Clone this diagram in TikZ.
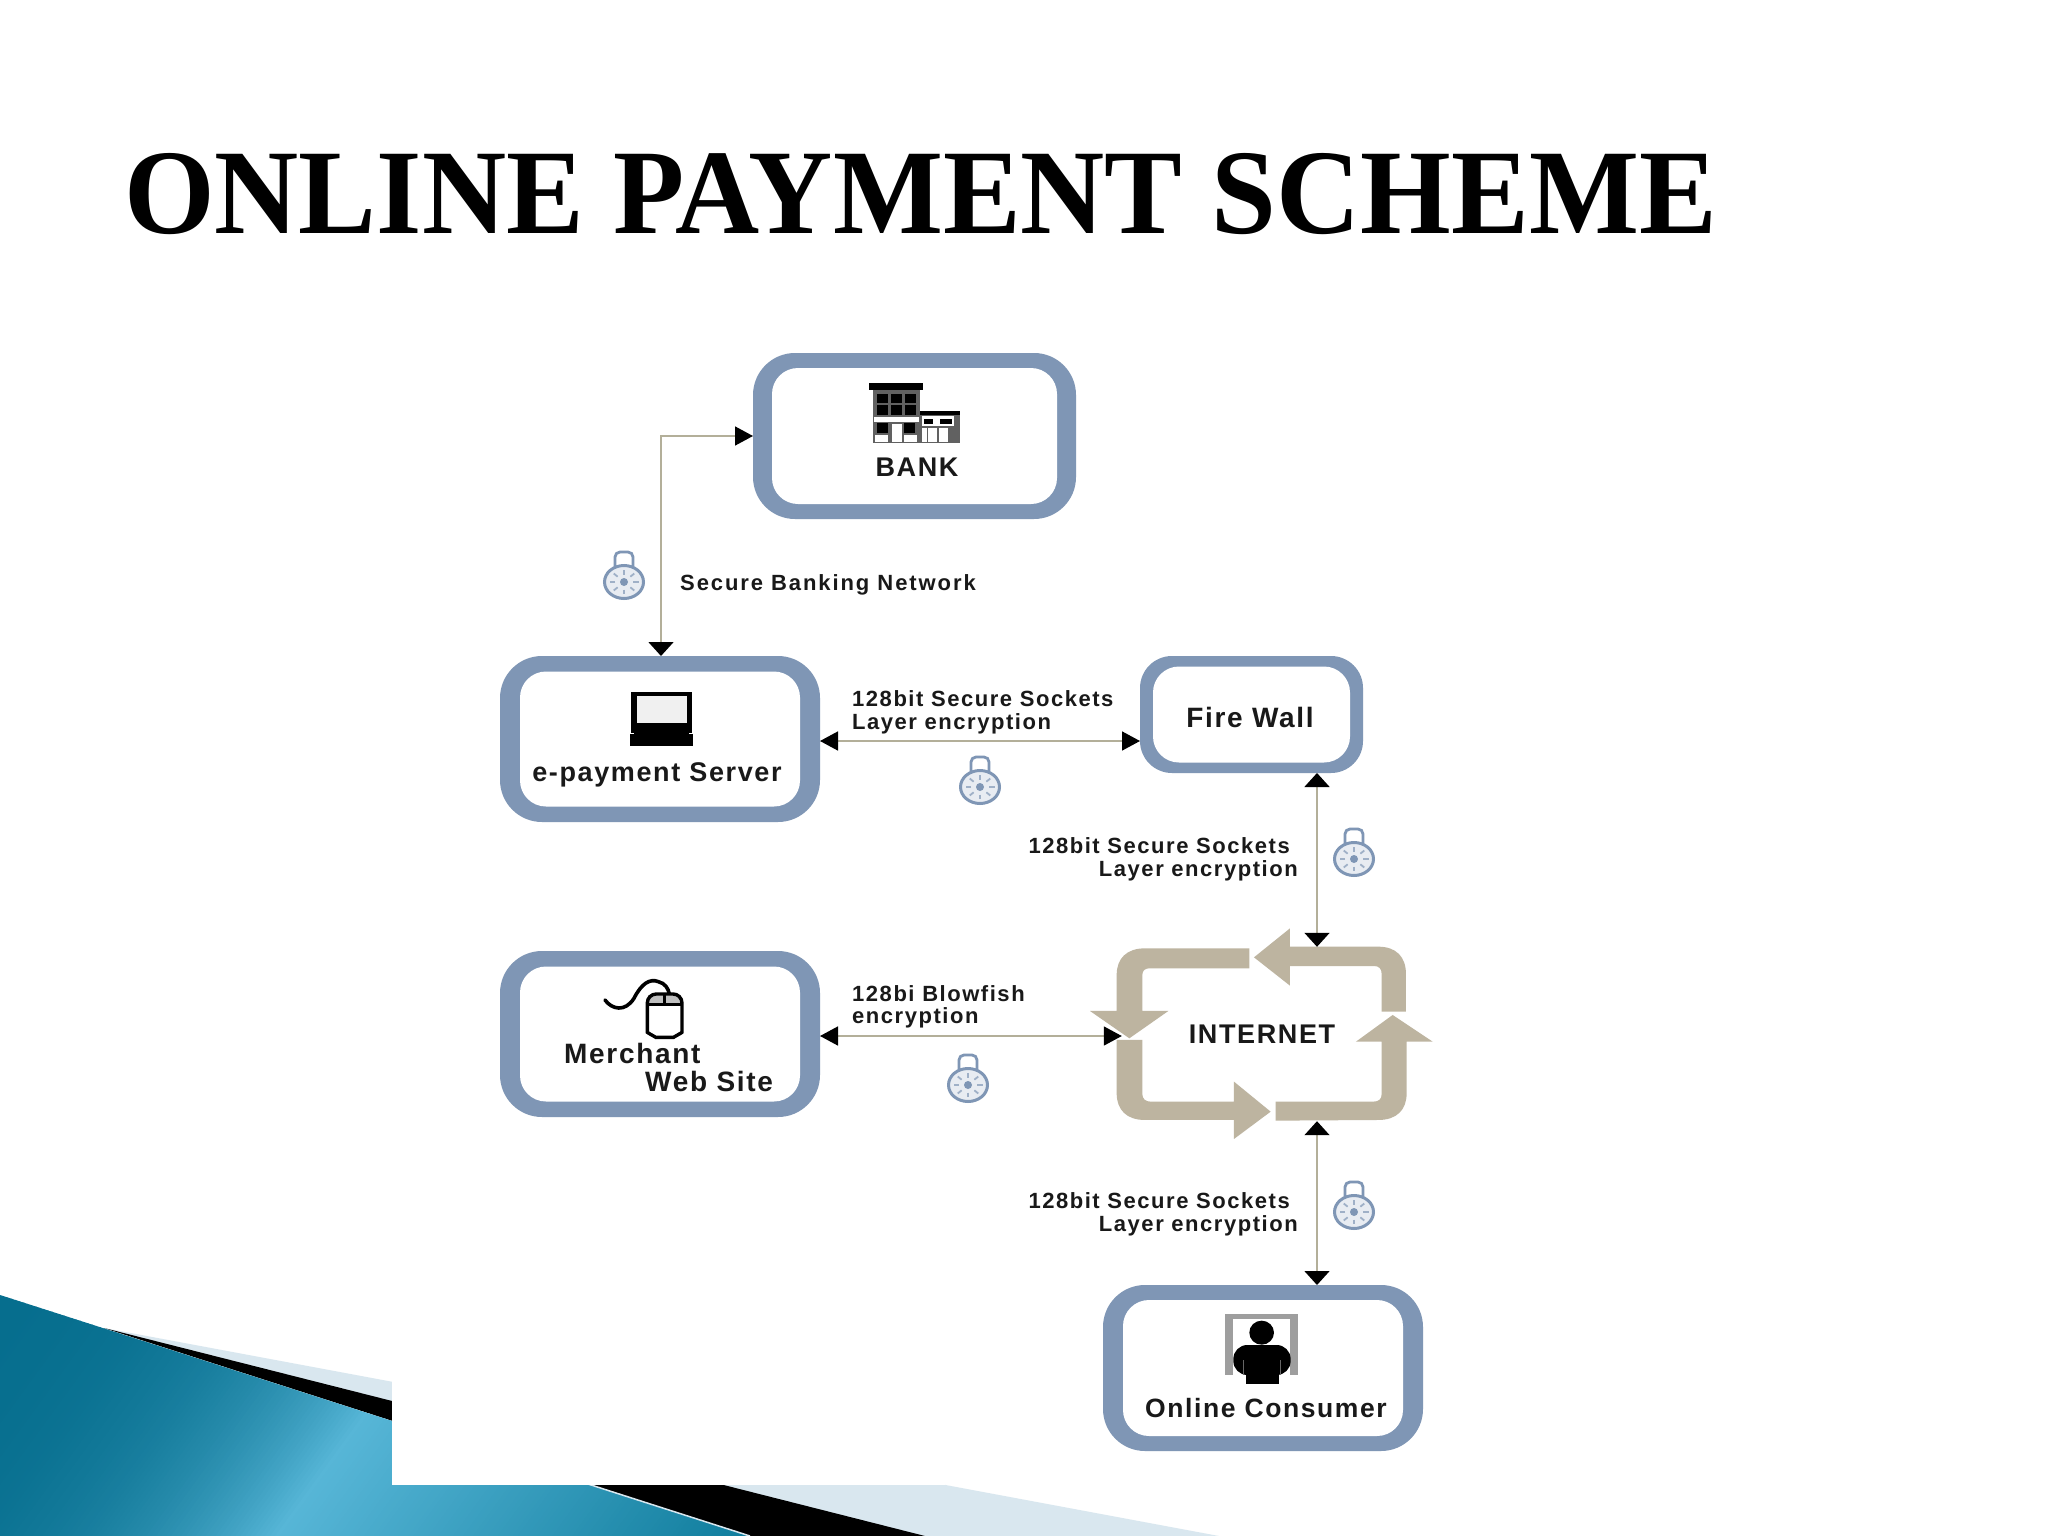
\documentclass[tikz,border=0pt]{standalone}
\usepackage{fontspec}
\usetikzlibrary{arrows.meta,calc}
\setmainfont{Liberation Sans}
\newfontfamily\titlefont[FakeStretch=0.963]{Liberation Serif}
\newfontfamily\lblfont[LetterSpace=7]{Liberation Sans}
\newfontfamily\lblwide[LetterSpace=8.7]{Liberation Sans}
\newfontfamily\boxfont[LetterSpace=6]{Liberation Sans}
\definecolor{boxblue}{HTML}{7F96B5}
\definecolor{linec}{HTML}{B3AF99}
\definecolor{loopc}{HTML}{BDB4A0}
\definecolor{tealA}{HTML}{066E8E}
\definecolor{tealB}{HTML}{57B6D7}
\definecolor{tealC}{HTML}{0C7A9A}
\definecolor{lightp}{HTML}{D9E7EF}
\tikzset{
  x=1pt,y=-1pt,
  netbox/.style n args={2}{fill=boxblue,rounded corners=42pt,inner sep=0pt,outer sep=0pt,
    path picture={\fill[white,rounded corners=26pt]
      ($(path picture bounding box.south west)+(#1,-#2)$) rectangle
      ($(path picture bounding box.north east)+(-#1,#2)$);}},
  lbl/.style={font=\lblfont\bfseries\fontsize{22}{23}\selectfont,inner sep=0pt,text=black!90},
  boxlbl/.style={font=\boxfont\bfseries\fontsize{#1}{#1}\selectfont,inner sep=0pt,text=black!90},
  conn/.style={draw=linec,line width=1.6pt},
  hh/.style={conn,{Triangle[length=18pt,width=19pt,color=black]}-{Triangle[length=18pt,width=19pt,color=black]}},
  vv/.style={conn,{Triangle[length=14pt,width=25pt,color=black]}-{Triangle[length=14pt,width=25pt,color=black]}},
  padlock/.pic={
    \draw[boxblue,line width=2.8pt,fill=white,rounded corners=5pt] (-9,-12) -- (-9,-31) -- (9,-31) -- (9,-12);
    \draw[boxblue,line width=3pt,fill=boxblue!18] (0,-1) ellipse [x radius=19.5,y radius=16.5];
    \fill[boxblue] (0,-1) circle (4);
    \foreach \a in {0,45,...,315}{
      \draw[boxblue!75,line width=1.8pt] ({9*cos(\a)},{-1+7.5*sin(\a)}) -- ({14.5*cos(\a)},{-1+12*sin(\a)});
    }
  }
}
\begin{document}
\begin{tikzpicture}
\useasboundingbox (0,0) rectangle (2048,1536);
\fill[white] (0,0) rectangle (2048,1536);
% slide decoration
\fill[lightp] (104,1328) -- (1219,1536) -- (750,1536) -- cycle;
\fill[black] (104,1328) -- (925,1536) -- (750,1536) -- cycle;
\begin{scope}
\clip (0,1295) -- (750,1536) -- (0,1536) -- cycle;
\foreach \tv in {-400,-396,...,400}{
  \pgfmathsetmacro{\pmix}{\tv<0 ? ((\tv+400)/400)^3*100 : (400-\tv)/4}
  \ifdim\tv pt<0pt \colorlet{cur}{tealB!\pmix!tealA}\else\colorlet{cur}{tealB!\pmix!tealC}\fi
  \fill[cur] ({275+0.81*\tv+0.59*500},{1536+0.59*\tv-0.81*500})
    -- ({275+0.81*\tv-0.59*500},{1536+0.59*\tv+0.81*500})
    -- ({275+0.81*(\tv+5)-0.59*500},{1536+0.59*(\tv+5)+0.81*500})
    -- ({275+0.81*(\tv+5)+0.59*500},{1536+0.59*(\tv+5)-0.81*500}) -- cycle;
}
\end{scope}
\draw[lightp,line width=1.5pt] (560,1475) -- (750,1536);
\fill[white] (392,1378) rectangle (945,1485);
% title
\node[anchor=base west,inner sep=0pt,font=\titlefont\bfseries\fontsize{121}{121}\selectfont] (title) at (124,233) {ONLINE PAYMENT SCHEME};
% boxes
\node[netbox={19}{15},minimum width=323pt,minimum height=166pt] (bank) at (914.5,436) {};
\node[netbox={20}{15.5},minimum width=320pt,minimum height=166pt] (epay) at (660,739) {};
\node[netbox={20}{15.5},minimum width=320pt,minimum height=166pt] (merch) at (660,1034) {};
\node[netbox={13}{10.5},rounded corners=32pt,minimum width=223pt,minimum height=117pt] (fw) at (1251.5,714.5) {};
\node[netbox={20}{15},minimum width=320pt,minimum height=166pt] (cons) at (1263,1368) {};
% internet loop
\node[inner sep=0pt,minimum width=290pt,minimum height=174pt,boxlbl=27] (inet) at (1262,1034) {INTERNET};
\begin{scope}[shift={(1080,900)},x=0.3333pt,y=-0.3333pt]
\fill[loopc] (508,145) -- (195,145) .. controls (140,145) and (110,175) .. (110,225) -- (110,333) -- (30,333) -- (148,415) -- (265,333) -- (187,333) -- (187,225) .. controls (187,212) and (195,205) .. (208,205) -- (508,205) -- cycle;
\fill[loopc] (110,420) -- (187,420) -- (187,582) .. controls (187,597) and (197,605) .. (212,605) -- (462,605) -- (462,545) -- (572,635) -- (462,717) -- (462,660) -- (195,660) .. controls (140,660) and (110,630) .. (110,580) -- cycle;
\fill[loopc] (587,605) -- (880,605) .. controls (897,605) and (905,597) .. (905,582) -- (905,425) -- (828,425) -- (938,345) -- (1058,425) -- (980,425) -- (980,580) .. controls (980,630) and (950,660) .. (895,660) -- (587,662) -- cycle;
\fill[loopc] (905,335) -- (905,222) .. controls (905,206) and (897,198) .. (882,198) -- (630,198) -- (630,257) -- (522,172) -- (630,85) -- (630,140) -- (895,140) .. controls (948,140) and (978,170) .. (978,222) -- (978,335) -- cycle;
\end{scope}
% connectors
\coordinate (xr) at (1317,0);
\draw[conn,{Triangle[length=18pt,width=19pt,color=black]}-{Triangle[length=14pt,width=25pt,color=black]}] (bank.west) -| ([xshift=1pt]epay.north);
\draw[hh] ([yshift=-2pt]epay.east) -- ([yshift=-2pt]epay.east -| fw.west);
\draw[hh,shorten >=-5pt] ([yshift=-2pt]merch.east) -- ([yshift=-2pt]merch.east -| inet.west);
\draw[vv] (xr |- fw.south) -- (xr |- inet.north);
\draw[vv] (xr |- inet.south) -- (xr |- cons.north);
% padlocks
\pic at (624,583) {padlock};
\pic at (980,788) {padlock};
\pic at (1354,860) {padlock};
\pic at (968,1086) {padlock};
\pic at (1354,1213) {padlock};
% bank icon
\begin{scope}[shift={(720,340)},x=0.3333pt,y=-0.3333pt]
\fill[black!62] (458,150) rectangle (600,310);
\fill[black] (447,130) rectangle (610,150);
\foreach \cx in {472,514,556}{\foreach \cy in {162,196}{\fill[black] (\cx,\cy) rectangle ++(32,28);}}
\fill[white] (462,230) rectangle (596,245);
\fill[black] (472,250) rectangle (505,278);
\fill[black] (552,250) rectangle (586,278);
\fill[white] (516,252) rectangle (545,305);
\fill[white] (465,285) rectangle (505,305);
\fill[white] (552,285) rectangle (590,305);
\fill[black!62] (600,225) rectangle (720,310);
\fill[black] (600,212) rectangle (720,225);
\fill[white] (605,229) rectangle (702,258);
\fill[black] (612,237) rectangle (640,252);
\fill[black] (660,237) rectangle (695,252);
\fill[white] (625,265) rectangle (685,305);
\fill[white] (605,265) rectangle (620,305);
\draw[black!62,line width=2pt] (655,265) -- (655,305);
\end{scope}
% laptop icon
\begin{scope}[shift={(480,640)},x=0.3333pt,y=-0.3333pt]
\fill[black] (452,155) rectangle (636,278);
\fill[black!6] (470,168) rectangle (622,248);
\fill[black] (450,283) rectangle (638,318);
\fill[black] (462,275) rectangle (626,285);
\end{scope}
% mouse icon
\begin{scope}[shift={(480,640)},x=0.3333pt,y=-0.3333pt]
\draw[black,line width=3.6pt,line cap=round] (375,1080) .. controls (395,1108) and (435,1118) .. (462,1075) .. controls (485,1030) and (510,1015) .. (535,1025) .. controls (555,1030) and (565,1045) .. (568,1062);
\fill[black!25] (505,1065) rectangle (603,1092);
\draw[black,line width=3.4pt,rounded corners=9pt] (502,1062) -- (606,1062) -- (606,1150) .. controls (606,1178) and (580,1192) .. (554,1192) .. controls (528,1192) and (502,1178) .. (502,1150) -- cycle;
\draw[black,line width=2.8pt] (502,1094) -- (606,1094);
\draw[black,line width=2.8pt] (554,1062) -- (554,1094);
\end{scope}
% person icon
\begin{scope}[shift={(1080,1260)},x=0.3333pt,y=-0.3333pt]
\fill[black!38] (435,162) rectangle (655,176);
\fill[black!38] (435,162) rectangle (460,345);
\fill[black!38] (630,162) rectangle (655,345);
\fill[black] (545,218) ellipse [x radius=37,y radius=36];
\fill[black,rounded corners=14pt] (460,345) -- (460,255) -- (632,255) -- (632,345) -- cycle;
\fill[black] (497,330) rectangle (597,372);
\draw[black!60,line width=1.5pt] (490,300) -- (490,345);
\draw[black!60,line width=1.5pt] (602,300) -- (602,345);
\end{scope}
% labels in boxes
\node[boxlbl=27] (banklbl) at (917,467) {BANK};
\node[boxlbl=27] (epaylbl) at (657,775) {e-payment Server};
\node[boxlbl=28] (fwlbl) at (1250,717) {Fire Wall};
\node[boxlbl=28,anchor=base west] (mlbl1) at (564,1063) {Merchant};
\node[boxlbl=28,anchor=base west] (mlbl2) at (645,1091) {Web Site};
\node[boxlbl=26.5] (conslbl) at (1266,1408) {Online Consumer};
% edge labels
\node[lbl,font=\lblwide\bfseries\fontsize{22}{23}\selectfont,anchor=base west] (sbn) at (680,590) {Secure Banking Network};
\node[lbl,anchor=base west] (l1a) at (852,706) {128bit Secure Sockets};
\node[lbl,anchor=base west] (l1b) at (852,729) {Layer encryption};
\node[lbl,anchor=base east] (l2a) at (1290,853) {128bit Secure Sockets};
\node[lbl,anchor=base east] (l2b) at (1298,876) {Layer encryption};
\node[lbl,anchor=base west] (l3a) at (852,1001) {128bi Blowfish};
\node[lbl,anchor=base west] (l3b) at (852,1023) {encryption};
\node[lbl,anchor=base east] (l4a) at (1290,1208) {128bit Secure Sockets};
\node[lbl,anchor=base east] (l4b) at (1298,1231) {Layer encryption};
\end{tikzpicture}
\end{document}
